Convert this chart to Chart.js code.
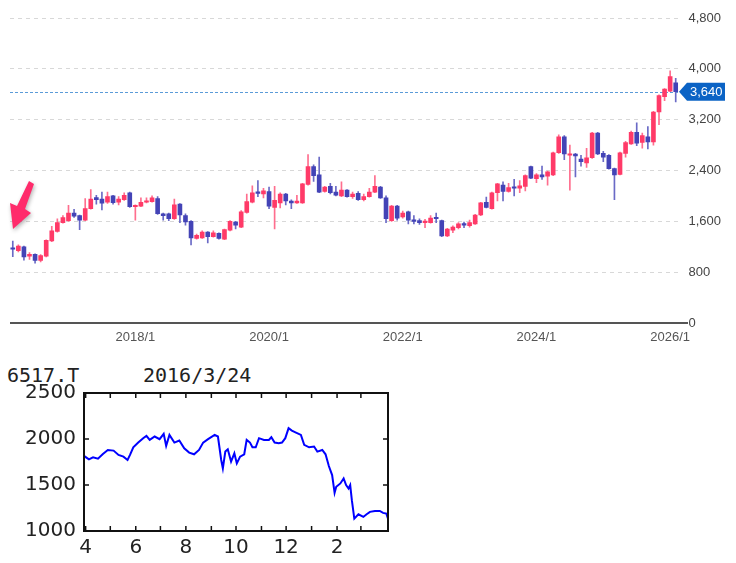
<!DOCTYPE html>
<html>
<head>
<meta charset="utf-8">
<script src="https://cdn.jsdelivr.net/npm/chart.js@4.4.1/dist/chart.umd.min.js"></script>
<style>
body{margin:0;background:#fff;width:736px;height:563px;position:relative;overflow:hidden}
#top{position:absolute;left:0;top:0}
#bottom{position:absolute;left:0;top:355px}
.ttl{position:absolute;top:363px;font:20px "DejaVu Sans Mono",monospace;color:#222;line-height:24px}
</style>
</head>
<body>
<canvas id="top" width="736" height="350"></canvas>
<div class="ttl" style="left:7px">6517.T</div>
<div class="ttl" style="left:143px">2016/3/24</div>
<canvas id="bottom" width="400" height="208"></canvas>
<script>
// monthly candles, 2016/3 .. 2026/2
const firstYear = 2016, firstMonth = 3;
const opens = [1180,1140,1200,1050,1080,985,1050,1290,1440,1580,1610,1730,1690,1620,1800,1975,1950,1900,2000,1900,
  1940,2050,1830,1840,1900,1910,1960,1720,1720,1640,1870,1690,1600,1330,1340,1430,1360,1410,1320,1460,
  1590,1510,1740,1900,2060,2030,2070,1820,1890,2030,1920,1890,1890,2180,2460,2330,2070,2150,2060,2000,
  2090,1990,2040,1940,1990,2060,2140,1970,1610,1840,1670,1750,1620,1610,1580,1580,1650,1610,1370,1460,
  1500,1560,1530,1560,1700,1900,1800,2050,2170,2070,2140,2120,2150,2460,2270,2330,2310,2330,2680,2930,
  2640,2660,2580,2520,2600,2990,2670,2640,2430,2340,2670,2820,3000,2840,2930,2850,3320,3560,3650,3780];
const closes = [1160,1210,1040,1080,985,1060,1300,1450,1580,1660,1730,1680,1620,1800,1950,1940,1885,1990,1895,1950,
  2010,1830,1850,1900,1920,1970,1720,1690,1640,1860,1700,1590,1340,1380,1430,1360,1420,1330,1470,1600,
  1540,1750,1910,2050,2040,2080,1840,1930,2030,1920,1890,1920,2190,2460,2320,2060,2140,2050,2010,2090,
  1990,2030,1940,1990,2060,2150,1970,1640,1840,1650,1730,1620,1600,1580,1600,1650,1640,1370,1480,1510,
  1560,1540,1580,1700,1890,1820,2050,2190,2070,2130,2120,2160,2320,2280,2330,2300,2380,2680,2930,2660,
  2660,2630,2540,2600,2990,2660,2610,2430,2330,2680,2840,3000,2830,2950,2850,3320,3580,3680,3880,3640];
const highs = [1290,1230,1210,1110,1090,1075,1310,1520,1640,1690,1850,1790,1700,1960,2100,2010,2060,2060,2010,1990,
  2050,2060,1860,1970,1970,2000,1990,1730,1730,1950,1880,1720,1610,1400,1450,1440,1450,1420,1480,1610,
  1600,1770,2030,2160,2240,2120,2140,2150,2050,2040,1940,2010,2200,2650,2490,2610,2150,2200,2150,2220,
  2100,2060,2070,2030,2120,2320,2150,2000,1850,1850,1760,1760,1690,1640,1630,1690,1730,1620,1490,1530,
  1580,1590,1620,1710,1900,1980,2060,2200,2220,2200,2260,2240,2330,2470,2350,2470,2390,2690,2960,2950,
  2800,2670,2640,2750,3000,3000,2700,2650,2440,2690,2860,3020,3150,2990,3090,3330,3590,3690,3970,3850];
const lows = [1045,1120,990,1000,940,960,1040,1280,1430,1570,1600,1660,1470,1610,1790,1870,1780,1880,1870,1860,
  1930,1820,1620,1830,1890,1900,1710,1620,1610,1630,1580,1540,1230,1320,1330,1260,1350,1320,1310,1450,
  1480,1500,1730,1890,1990,1970,1800,1480,1810,1860,1800,1880,1880,2170,2230,2050,2060,2030,2000,1990,
  1980,1960,1930,1920,1980,2050,1960,1580,1600,1620,1650,1560,1560,1550,1500,1570,1580,1360,1360,1420,
  1480,1500,1510,1550,1690,1810,1790,1920,1920,2060,2000,2050,2080,2270,2210,2260,2170,2320,2670,2570,
  2090,2300,2470,2450,2590,2650,2540,2420,1940,2330,2610,2810,2790,2750,2740,2800,3120,3500,3640,3480];
const shownMonths = ['2018/1','2020/1','2022/1','2024/1','2026/1'];
const yTicks = [0,800,1600,2400,3200,4000,4800];
const lastPrice = 3640;

// small daily chart (days counted from 2015/4/1)
const lineDays = [-2,4,9,15,21,27,34,40,46,51,54,58,64,70,74,78,84,90,95,98,102,108,114,120,126,132,138,143,149,157,161,165,167,170,173,177,181,184,188,193,
  196,200,203,207,211,217,223,226,230,235,239,243,247,251,256,262,266,272,278,282,288,292,296,300,303,305,310,314,317,320,322,324,327,332,338,342,346,352,358,362,366,368];
const lineValues = [1816,1779,1801,1786,1837,1881,1874,1827,1808,1772,1827,1910,1961,2009,2034,1990,2027,1998,2056,1925,2045,1961,1983,1899,1852,1834,1881,1961,1998,2045,2027,1772,1681,1863,1888,1754,1845,1735,1808,1834,
  1990,1961,1910,1910,2009,1990,1990,2019,1961,1954,1961,2009,2118,2092,2070,2045,1936,1910,1918,1863,1881,1834,1706,1608,1415,1481,1517,1572,1499,1462,1499,1335,1135,1182,1153,1182,1208,1218,1218,1197,1189,1135];
const monthDays = [0,30,61,91,122,153,183,214,244,275,306,335];
const monthTickLabels = ['4','','6','','8','','10','','12','','2',''];

const labels = opens.map((v, i) => {
  const m = firstMonth - 1 + i;
  return (firstYear + Math.floor(m / 12)) + '/' + (m % 12 + 1);
});
const up = opens.map((o, i) => closes[i] >= o);
const bodyCol = up.map(u => u ? '#ff3a68' : '#4343b6');
const wickCol = up.map(u => u ? '#ff6e8e' : '#6a6ac6');

const topOverlay = {
  id: 'topOverlay',
  beforeDatasetsDraw(chart) {
    const {ctx, chartArea: a, scales: {y}} = chart;
    const py = Math.round(y.getPixelForValue(lastPrice)) + 0.5;
    ctx.save();
    ctx.strokeStyle = '#5b9bd8';
    ctx.setLineDash([3, 2]);
    ctx.beginPath(); ctx.moveTo(a.left, py); ctx.lineTo(a.right, py); ctx.stroke();
    ctx.restore();
  },
  afterDraw(chart) {
    const {ctx, chartArea: a, scales: {y}} = chart;
    const py = y.getPixelForValue(lastPrice);
    ctx.save();
    // axis line runs a little past the plot
    ctx.strokeStyle = '#555'; ctx.lineWidth = 2;
    ctx.beginPath(); ctx.moveTo(a.left, a.bottom); ctx.lineTo(688, a.bottom); ctx.stroke();
    ctx.fillStyle = '#0b63c5';
    ctx.beginPath();
    ctx.moveTo(679, py); ctx.lineTo(687, py - 9); ctx.lineTo(725, py - 9);
    ctx.lineTo(725, py + 9); ctx.lineTo(687, py + 9); ctx.closePath(); ctx.fill();
    ctx.fillStyle = '#fff';
    ctx.font = '13px "Liberation Sans", Arial';
    ctx.textBaseline = 'middle';
    ctx.fillText(lastPrice.toLocaleString('en-US'), 690, py + 1);
    // pink pointer arrow
    ctx.shadowColor = 'rgba(0,0,0,0.3)'; ctx.shadowBlur = 4; ctx.shadowOffsetX = 1; ctx.shadowOffsetY = 2;
    ctx.fillStyle = '#ff2b6b';
    ctx.beginPath();
    ctx.moveTo(29, 181); ctx.lineTo(34, 184); ctx.lineTo(25, 209);
    ctx.lineTo(31, 213); ctx.lineTo(13, 229); ctx.lineTo(10, 203);
    ctx.lineTo(17, 206); ctx.closePath(); ctx.fill();
    ctx.restore();
  }
};

new Chart(document.getElementById('top'), {
  type: 'bar',
  data: {
    labels: labels,
    datasets: [
      {data: lows.map((l, i) => [l, highs[i]]), backgroundColor: wickCol, barThickness: 1, grouped: false, order: 2},
      {data: opens.map((o, i) => [o, closes[i]]), backgroundColor: bodyCol, barThickness: 4, minBarLength: 1.5, grouped: false, order: 1}
    ]
  },
  options: {
    responsive: false,
    animation: false,
    layout: {padding: {top: 18, left: 10, right: 0, bottom: 0}},
    plugins: {legend: {display: false}, tooltip: {enabled: false}},
    scales: {
      x: {
        grid: {display: false, drawTicks: false},
        border: {display: false},
        ticks: {
          autoSkip: false, maxRotation: 0, minRotation: 0, padding: 7,
          color: '#555', font: {family: '"Liberation Sans", Arial', size: 13},
          callback: (v, i) => shownMonths.includes(labels[i]) ? labels[i] : ''
        },
        afterFit: s => { s.height = 27; }
      },
      y: {
        position: 'right',
        min: 0, max: 4800,
        afterBuildTicks: s => { s.ticks = yTicks.map(v => ({value: v})); },
        grid: {drawTicks: false, color: c => c.tick.value === 0 ? 'rgba(0,0,0,0)' : '#d8d8d8'},
        border: {display: false, dash: [4, 4]},
        ticks: {padding: 10, color: '#444', font: {family: '"Liberation Sans", Arial', size: 13},
          callback: v => v.toLocaleString('en-US')},
        afterFit: s => { s.width = 57.5; }
      }
    }
  },
  plugins: [topOverlay]
});

const frame = {
  id: 'frame',
  afterDraw(chart) {
    const {ctx, chartArea: a, scales: {x, y}} = chart;
    ctx.save();
    ctx.strokeStyle = '#111';
    ctx.lineWidth = 1.5;
    ctx.beginPath();
    x.ticks.forEach(t => {
      const px = x.getPixelForValue(t.value);
      ctx.moveTo(px, a.bottom); ctx.lineTo(px, a.bottom - 5);
      ctx.moveTo(px, a.top); ctx.lineTo(px, a.top + 5);
    });
    y.ticks.forEach(t => {
      const py = y.getPixelForValue(t.value);
      ctx.moveTo(a.left, py); ctx.lineTo(a.left + 5, py);
      ctx.moveTo(a.right, py); ctx.lineTo(a.right - 5, py);
    });
    ctx.stroke();
    ctx.lineWidth = 2;
    ctx.strokeRect(a.left, a.top, a.right - a.left, a.bottom - a.top);
    ctx.restore();
  }
};

new Chart(document.getElementById('bottom'), {
  type: 'line',
  data: {
    datasets: [{
      data: lineDays.map((d, i) => ({x: d, y: lineValues[i]})),
      borderColor: '#0000ff', borderWidth: 2, pointRadius: 0, tension: 0
    }]
  },
  options: {
    responsive: false,
    animation: false,
    layout: {padding: {top: 38, left: 0, right: 12, bottom: 0}},
    plugins: {legend: {display: false}, tooltip: {enabled: false}},
    scales: {
      x: {
        type: 'linear', min: -2, max: 368,
        afterBuildTicks: s => { s.ticks = monthDays.map(v => ({value: v})); },
        grid: {display: false, drawTicks: false},
        border: {display: false},
        ticks: {autoSkip: false, maxRotation: 0, padding: 5, color: '#222',
          font: {family: '"DejaVu Sans"', size: 20},
          callback: (v, i) => monthTickLabels[i]},
        afterFit: s => { s.height = 32; }
      },
      y: {
        min: 1000, max: 2500,
        ticks: {stepSize: 500, padding: 8, color: '#222', font: {family: '"DejaVu Sans"', size: 20},
          callback: v => String(v)},
        grid: {display: false, drawTicks: false},
        border: {display: false},
        afterFit: s => { s.width = 84; }
      }
    }
  },
  plugins: [frame]
});
</script>
</body>
</html>
